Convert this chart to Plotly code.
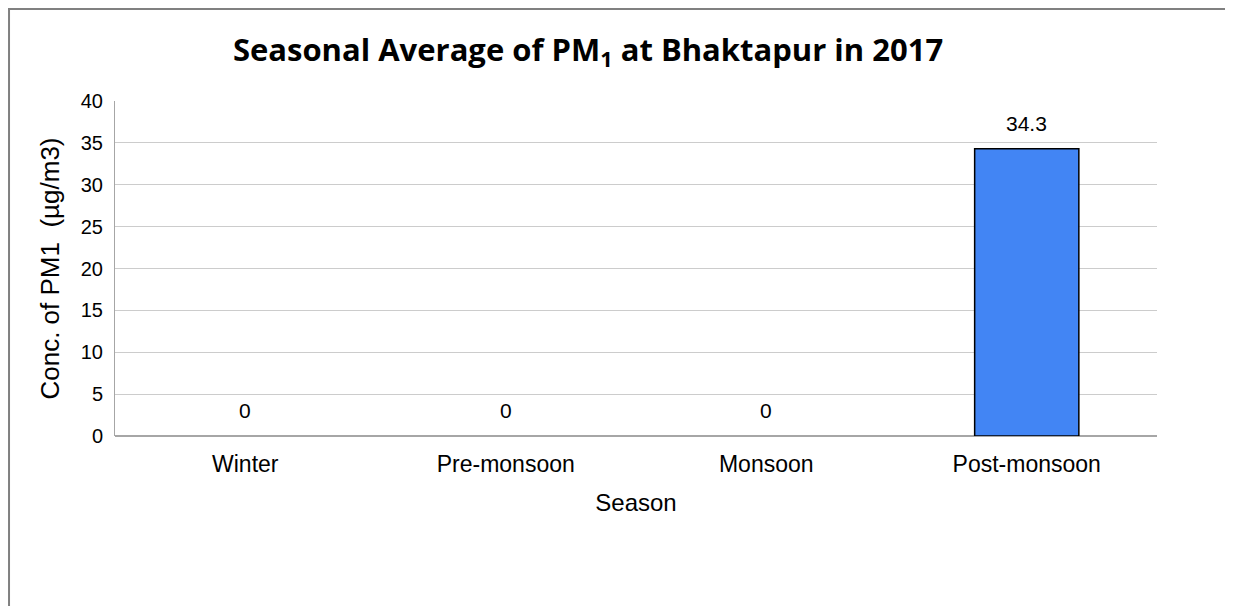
import plotly.graph_objects as go

seasons = ["Winter", "Pre-monsoon", "Monsoon", "Post-monsoon"]
pm1_conc = [0, 0, 0, 34.3]
y_ticks = [0, 5, 10, 15, 20, 25, 30, 35, 40]

fig = go.Figure()

# zero bars get no outline, otherwise they draw a black line on the baseline
fig.add_trace(go.Bar(
    x=seasons,
    y=pm1_conc,
    width=0.4,
    marker=dict(
        color="#4285F4",
        line=dict(color=["rgba(0,0,0,0)" if v == 0 else "black" for v in pm1_conc], width=1.5),
    ),
))

# data labels sit a bit higher than plotly's own "outside" text
for s, v in zip(seasons, pm1_conc):
    fig.add_annotation(
        x=s, y=v, text=f"{v:g}", showarrow=False,
        yanchor="bottom", yshift=12,
        font=dict(size=21, color="black", family="Liberation Sans"),
    )

# outer chart border (runs off the bottom of the picture)
fig.add_shape(
    type="rect", xref="paper", yref="paper",
    x0=-0.1017, x1=1.0696, y0=-0.573, y1=1.2746,
    line=dict(color="#808080", width=2), fillcolor="rgba(0,0,0,0)",
    layer="below",
)

fig.update_layout(
    width=1225,
    height=598,
    margin=dict(l=107, r=76, t=93, b=170),
    paper_bgcolor="white",
    plot_bgcolor="white",
    showlegend=False,
    font=dict(family="Liberation Sans", color="black"),
    title=dict(
        text="<b>Seasonal Average of PM<sub>1</sub> at Bhaktapur in 2017</b>",
        x=0.4735, xanchor="center",
        y=1 - 42 / 598, yanchor="middle",
        font=dict(size=31, family="Open Sans", color="black"),
    ),
    xaxis=dict(
        title=dict(text="Season", font=dict(size=24), standoff=18),
        tickfont=dict(size=23),
        showline=False,
        ticks="",
        ticklabelstandoff=12,
    ),
    yaxis=dict(
        title=dict(text="Conc. of PM1  (µg/m3)", font=dict(size=26), standoff=13),
        range=[0, 40],
        tickvals=y_ticks,
        tickfont=dict(size=20),
        showgrid=True,
        gridcolor="#cccccc",
        gridwidth=1,
        showline=True,
        linecolor="#a6a6a6",
        linewidth=1,
        zeroline=True,
        zerolinecolor="#a6a6a6",
        zerolinewidth=2,
        ticks="",
        ticklabelstandoff=7,
    ),
)

fig.write_html("out.html")
